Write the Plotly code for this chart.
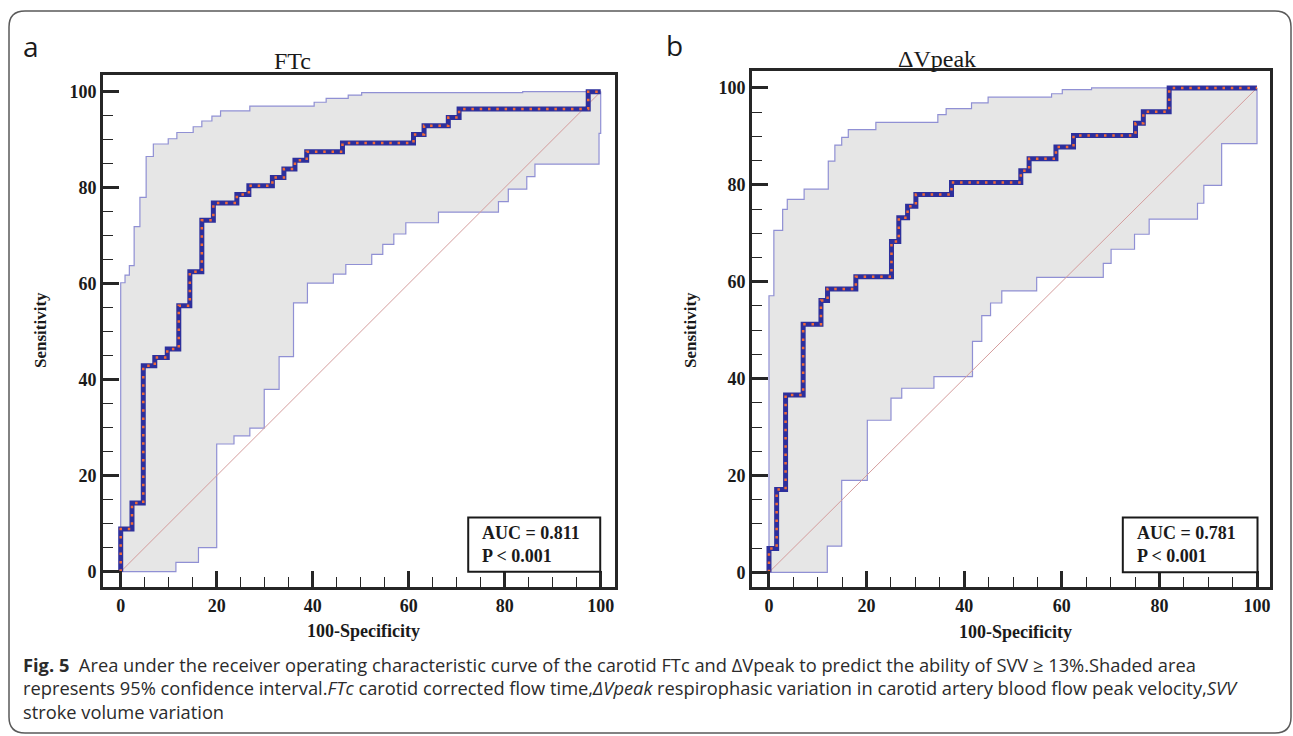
import plotly.graph_objects as go

W, H = 1293, 736

# ---------------- data ----------------
# Panel a: FTc  -- step points (x, y): at x the curve rises to y
ftc_roc_x = [0, 0, 2.35, 4.7, 7.1, 9.7, 12.1, 14.4, 16.9, 19.3, 24.2, 26.7, 31.6, 34.0, 36.3, 38.75, 46.2, 61.0, 63.2, 68.25, 70.5, 97.4, 100]
ftc_roc_y = [0, 8.9, 14.3, 42.9, 44.6, 46.4, 55.4, 62.5, 73.2, 76.8, 78.6, 80.4, 82.1, 83.9, 85.7, 87.5, 89.3, 91.1, 92.9, 94.6, 96.4, 100, 100]
ftc_up_x = [0, 0, 0.9, 1.8, 2.8, 4.0, 5.3, 6.8, 9.9, 11.7, 15.1, 16.9, 19.0, 20.8, 26.9, 40.3, 42.8, 47.4, 50.2, 83.75, 100]
ftc_up_y = [0, 60.2, 61.8, 63.75, 71.9, 78.0, 86.5, 89.1, 90.2, 91.5, 92.7, 93.9, 94.9, 96.0, 97.0, 97.8, 98.6, 99.3, 99.8, 100, 100]
ftc_lo_x = [0, 11.5, 16.2, 20.0, 23.6, 26.9, 29.9, 33.0, 36.0, 38.9, 44.3, 46.9, 52.3, 54.6, 56.9, 59.4, 66.2, 78.7, 80.75, 84.6, 86.3, 99.65, 100]
ftc_lo_y = [0, 1.95, 5.0, 26.6, 28.3, 29.9, 38.0, 44.8, 56.0, 60.1, 62.0, 64.0, 66.1, 68.2, 70.35, 72.7, 74.9, 77.1, 79.7, 82.3, 84.9, 91.3, 100]
ftc_auc = "AUC = 0.811"
ftc_p = "P &lt; 0.001"

# Panel b: dVpeak
dv_roc_x = [0, 0, 1.57, 3.4, 7.0, 10.65, 12.0, 17.8, 25.1, 26.6, 28.4, 30.1, 37.4, 51.6, 53.3, 58.8, 62.4, 75.1, 76.7, 82.0, 100]
dv_roc_y = [0, 4.9, 17.1, 36.6, 51.2, 56.1, 58.5, 61.0, 68.3, 73.2, 75.6, 78.0, 80.5, 82.9, 85.4, 87.8, 90.2, 92.7, 95.1, 100, 100]
dv_up_x = [0, 0, 1.0, 2.8, 3.75, 7.2, 12.15, 13.5, 14.9, 16.25, 21.9, 34.6, 36.3, 41.5, 44.9, 57.9, 60.1, 66.1, 100]
dv_up_y = [0, 57.1, 70.6, 74.95, 77.0, 79.1, 84.9, 88.2, 89.8, 91.4, 92.9, 94.5, 95.75, 96.9, 98.1, 98.8, 99.65, 100, 100]
dv_lo_x = [0, 11.95, 14.9, 20.15, 25.0, 27.2, 33.8, 41.7, 43.6, 45.4, 47.7, 54.85, 68.5, 70.1, 74.9, 77.9, 87.8, 89.1, 92.75, 100]
dv_lo_y = [0, 5.4, 19.0, 31.4, 35.95, 38.0, 40.4, 47.7, 53.0, 55.6, 58.1, 60.9, 63.8, 66.7, 69.8, 72.9, 76.2, 79.9, 88.5, 100]
dv_auc = "AUC = 0.781"
dv_p = "P &lt; 0.001"

tick_vals = [0, 20, 40, 60, 80, 100]
tick_text = ["0", "20", "40", "60", "80", "100"]
diag = [0, 100]

titles = ["FTc", "ΔVpeak"]
panel_letters = ["a", "b"]

caption_lines = [
    "<b>Fig. 5</b>  Area under the receiver operating characteristic curve of the carotid FTc and ΔVpeak to predict the ability of SVV ≥ 13%.Shaded area",
    "represents 95% confidence interval.<i>FTc</i> carotid corrected flow time,<i>ΔVpeak</i> respirophasic variation in carotid artery blood flow peak velocity,<i>SVV</i>",
    "stroke volume variation",
]

# ---------------- helpers ----------------
def steps(xs, ys):
    """expand horizontal-then-vertical step points into polyline vertices"""
    ox, oy = [xs[0]], [ys[0]]
    for i in range(1, len(xs)):
        ox.append(xs[i]); oy.append(ys[i - 1])
        ox.append(xs[i]); oy.append(ys[i])
    return ox, oy

def px(x):
    return x / W

def py(y):
    return 1 - y / H

SERIF = "Liberation Serif"
SANS = "Open Sans"
BLUE = "#2d2f9c"
ORANGE = "#f26a36"
CI = "#9090d4"
FILL = "#e6e6e6"
DIAG = "#d49c9c"

fig = go.Figure()

panels = [
    dict(roc=(ftc_roc_x, ftc_roc_y), up=(ftc_up_x, ftc_up_y), lo=(ftc_lo_x, ftc_lo_y),
         auc=ftc_auc, p=ftc_p, xa="x", ya="y"),
    dict(roc=(dv_roc_x, dv_roc_y), up=(dv_up_x, dv_up_y), lo=(dv_lo_x, dv_lo_y),
         auc=dv_auc, p=dv_p, xa="x2", ya="y2"),
]

for pn in panels:
    ux, uy = steps(*pn["up"])
    lx, ly = steps(*pn["lo"])
    rx, ry = steps(*pn["roc"])
    fig.add_trace(go.Scatter(x=ux + lx[::-1], y=uy + ly[::-1], fill="toself", fillcolor=FILL,
                             line=dict(width=0), mode="lines", hoverinfo="skip",
                             xaxis=pn["xa"], yaxis=pn["ya"], showlegend=False))
    fig.add_trace(go.Scatter(x=ux, y=uy, mode="lines", line=dict(color=CI, width=1.2),
                             xaxis=pn["xa"], yaxis=pn["ya"], showlegend=False))
    fig.add_trace(go.Scatter(x=lx, y=ly, mode="lines", line=dict(color=CI, width=1.2),
                             xaxis=pn["xa"], yaxis=pn["ya"], showlegend=False))
    fig.add_trace(go.Scatter(x=diag, y=diag, mode="lines", line=dict(color=DIAG, width=1),
                             xaxis=pn["xa"], yaxis=pn["ya"], showlegend=False))
    fig.add_trace(go.Scatter(x=rx, y=ry, mode="lines", line=dict(color=BLUE, width=5),
                             xaxis=pn["xa"], yaxis=pn["ya"], showlegend=False))
    fig.add_trace(go.Scatter(x=rx, y=ry, mode="lines", line=dict(color=ORANGE, width=2.5, dash="2.5px,5.8px"),
                             xaxis=pn["xa"], yaxis=pn["ya"], showlegend=False))

axis_common = dict(
    showgrid=False, zeroline=False, showline=True, mirror=True, linecolor="#262626", linewidth=3,
    ticks="inside", ticklen=16, tickwidth=2.5, tickcolor="#262626",
    tickvals=tick_vals, ticktext=tick_text, automargin=False,
    tickfont=dict(family=SERIF, size=18, color="#1a1a1a", weight="bold"),
    minor=dict(ticks="inside", dtick=5, ticklen=10, tickwidth=1.4, tickcolor="#262626", showgrid=False),
)

# pixel geometry of the two plot boxes
a_box = (103, 615, 75, 587)
b_box = (752, 1270, 71, 587)

fig.update_layout(
    width=W, height=H, margin=dict(l=0, r=0, t=0, b=0), autosize=False,
    paper_bgcolor="white", plot_bgcolor="white",
    xaxis=dict(domain=[px(a_box[0]), px(a_box[1])], range=[-3.69, 102.98], anchor="y", **axis_common),
    yaxis=dict(domain=[py(a_box[3]), py(a_box[2])], range=[-3.19, 103.48], anchor="x", **axis_common),
    xaxis2=dict(domain=[px(b_box[0]), px(b_box[1])], range=[-3.48, 102.66], anchor="y2", **axis_common),
    yaxis2=dict(domain=[py(b_box[3]), py(b_box[2])], range=[-3.03, 103.5], anchor="x2", **axis_common),
)

ann = []
# panel letters and titles
for (lx_, ly_), letter in zip([(31, 46), (674, 45)], panel_letters):
    ann.append(dict(x=px(lx_), y=py(ly_), xref="paper", yref="paper", text=letter, showarrow=False,
                    font=dict(family=SANS, size=28, color="#1a1a1a"), xanchor="center", yanchor="middle"))
for (tx, ty), t in zip([(292, 61), (937, 59)], titles):
    ann.append(dict(x=px(tx), y=py(ty), xref="paper", yref="paper", text=t, showarrow=False,
                    font=dict(family=SERIF, size=24, color="#1a1a1a"), xanchor="center", yanchor="middle"))
# axis titles
for sx, sy in [(40, 330), (690, 330)]:
    ann.append(dict(x=px(sx), y=py(sy), xref="paper", yref="paper", text="<b>Sensitivity</b>", showarrow=False,
                    textangle=-90, font=dict(family=SERIF, size=17, color="#1a1a1a"),
                    xanchor="center", yanchor="middle"))
for sx, sy in [(363, 631), (1015, 632)]:
    ann.append(dict(x=px(sx), y=py(sy), xref="paper", yref="paper", text="<b>100-Specificity</b>", showarrow=False,
                    font=dict(family=SERIF, size=18, color="#1a1a1a"), xanchor="center", yanchor="middle"))
# AUC boxes
shapes = []
for pn, bx in zip(panels, [(72.4, 99.9), (72.5, 100.1)]):
    xr = pn["xa"]; yr = pn["ya"]
    shapes.append(dict(type="rect", xref=xr, yref=yr, x0=bx[0], x1=bx[1], y0=0, y1=11.3,
                       line=dict(color="#1a1a1a", width=2), fillcolor="white", layer="above"))
    ann.append(dict(x=bx[0] + 2.4, y=5.7, xref=xr, yref=yr, text="<b>" + pn["auc"] + "<br>" + pn["p"] + "</b>",
                    showarrow=False, align="left", xanchor="left", yanchor="middle",
                    font=dict(family=SERIF, size=18, color="#1a1a1a")))
# caption
for i, line in enumerate(caption_lines):
    ann.append(dict(x=px(21), y=py(664 + i * 23.5), xref="paper", yref="paper", text=line, showarrow=False,
                    xanchor="left", yanchor="middle", align="left",
                    font=dict(family=SANS, size=18.3, color="#2b2b2b")))

# outer rounded frame
L, R, T, B, r = 9, 1291, 11, 733, 16
rx_, ry_ = r / W, r / H
path = (f"M {px(L)+rx_},{py(T)} L {px(R)-rx_},{py(T)} Q {px(R)},{py(T)} {px(R)},{py(T)-ry_} "
        f"L {px(R)},{py(B)+ry_} Q {px(R)},{py(B)} {px(R)-rx_},{py(B)} "
        f"L {px(L)+rx_},{py(B)} Q {px(L)},{py(B)} {px(L)},{py(B)+ry_} "
        f"L {px(L)},{py(T)-ry_} Q {px(L)},{py(T)} {px(L)+rx_},{py(T)} Z")
shapes.append(dict(type="path", xref="paper", yref="paper", path=path,
                   line=dict(color="#5a5a5a", width=1.5), layer="below"))

fig.update_layout(annotations=ann, shapes=shapes)
fig.write_html("out.html", config={"displayModeBar": False},
               post_script="document.body.style.margin='0px';document.body.style.overflow='hidden';")
